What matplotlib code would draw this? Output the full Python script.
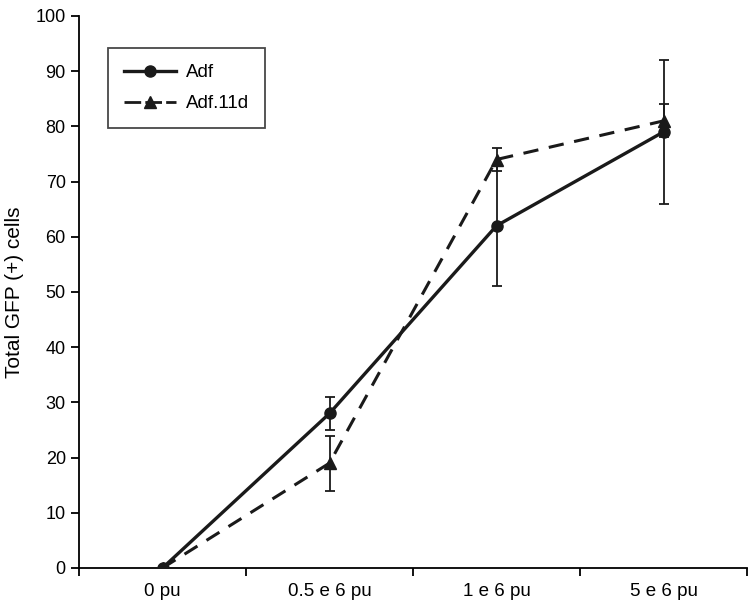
import matplotlib
matplotlib.use("Agg")
import matplotlib.pyplot as plt
from matplotlib.ticker import FixedLocator
from matplotlib.lines import Line2D

plt.rcParams['font.family'] = ['Liberation Sans', 'DejaVu Sans']

categories = ["0 pu", "0.5 e 6 pu", "1 e 6 pu", "5 e 6 pu"]
adf = [0, 28, 62, 79]
adf_err = [0, 3, 11, 13]
adf11d = [0, 19, 74, 81]
adf11d_err = [0, 5, 2, 3]

fig = plt.figure(figsize=(7.54, 6.08), dpi=100)
ax = fig.add_axes([79/754, 1-568/608, (747-79)/754, (568-16)/608])

x = list(range(len(categories)))
col = '#1a1a1a'

ax.errorbar(x, adf, yerr=adf_err, color=col, lw=2.4, marker='o', ms=8,
            ecolor=col, elinewidth=1.3, capsize=3.5, capthick=1.3, zorder=3)
ax.errorbar(x, adf11d, yerr=adf11d_err, color=col, lw=2.2, ls=(0, (5, 3.5)), marker='^', ms=9,
            ecolor=col, elinewidth=1.3, capsize=3.5, capthick=1.3, zorder=3)

ax.set_xlim(-0.5, 3.5)
ax.set_ylim(0, 100)
ax.set_yticks(range(0, 101, 10))
ax.set_xticks(x)
ax.set_xticklabels(categories, fontsize=13.5)
ax.xaxis.set_minor_locator(FixedLocator([-0.5, 0.5, 1.5, 2.5, 3.5]))
ax.tick_params(axis='x', which='major', length=0, pad=11)
ax.tick_params(axis='x', which='minor', length=6, width=1.3, direction='out')
ax.tick_params(axis='y', length=6, width=1.3, direction='out', labelsize=13)
ax.set_ylabel("Total GFP (+) cells", fontsize=15, labelpad=8)

for s in ['top', 'right']:
    ax.spines[s].set_visible(False)
for s in ['left', 'bottom']:
    ax.spines[s].set_linewidth(1.3)

handles = [
    Line2D([], [], color=col, lw=2.4, marker='o', ms=8),
    Line2D([], [], color=col, lw=2.0, ls=(0, (6, 1.5)), marker='^', ms=9),
]
leg = ax.legend(handles, ['Adf', 'Adf.11d'], loc='upper left',
                bbox_to_anchor=(29/668, 1-32/552), frameon=True, fancybox=False,
                edgecolor=col, fontsize=13.5, handlelength=2.8, borderpad=0.85,
                labelspacing=0.75, handletextpad=0.5, borderaxespad=0)
leg.get_frame().set_linewidth(1.3)

fig.savefig("out.png", dpi=100)
